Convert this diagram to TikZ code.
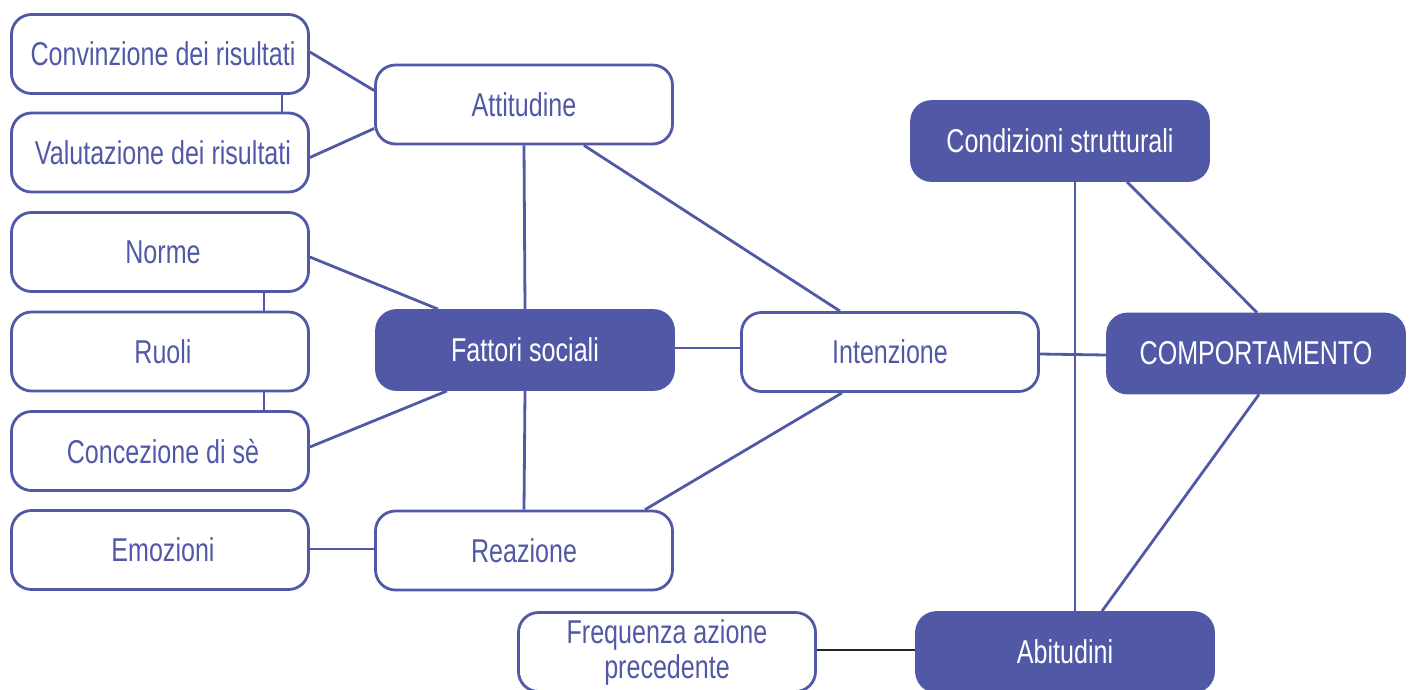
\documentclass[tikz,border=0pt]{standalone}
\usepackage{fontspec}
\setmainfont{Liberation Sans}[FakeStretch=0.76]
\usetikzlibrary{calc}
\definecolor{ink}{RGB}{81,89,167}
\begin{document}
\begin{tikzpicture}[x=1pt,y=-1pt,
  box/.style={draw=ink, line width=2.8pt, rounded corners=20pt,
    minimum width=297pt, minimum height=79pt, inner sep=0pt,
    text=ink, align=center, font=\fontsize{33pt}{35pt}\selectfont},
  hub/.style={box, fill=ink, text=white},
  link/.style={draw=ink, line width=2.8pt},
  plain/.style={draw=black!85, line width=2.8pt}]
\useasboundingbox (0,0) rectangle (1412,689);
\clip (0,0) rectangle (1412,689);

% left column
\node[box] (conv) at (160,54)    {\hspace{6pt}Convinzione dei risultati};
\node[box] (valu) at (160,152.5) {\hspace{6pt}Valutazione dei risultati};
\node[box] (norm) at (160,252)   {\hspace{6pt}Norme};
\node[box] (ruol) at (160,351.5) {\hspace{6pt}Ruoli};
\node[box] (conc) at (160,451)   {\hspace{6pt}Concezione di sè};
\node[box] (emoz) at (160,550)   {\hspace{6pt}Emozioni};

% middle column
\node[box] (att)  at (524,104.5) {Attitudine};
\node[hub] (fatt) at (525,350)   {Fattori sociali};
\node[box] (reaz) at (524,550.5) {Reazione};
\node[box] (int)  at (890,352)   {Intenzione};

% right part
\node[hub] (cond) at (1060,141)  {Condizioni strutturali};
\node[hub] (comp) at (1256,353.5){COMPORTAMENTO};
\node[hub] (abit) at (1065,652)  {Abitudini};
\node[box] (freq) at (667,652)   {Frequenza azione\\precedente};

% connectors
\draw[link] ($(conv.east)+(0,-2)$) -- ($(att.west)+(0,-14)$);
\draw[link] ($(valu.east)+(0,5)$) -- ($(att.west)+(0,24)$);
\draw[link] ($(conv.south)+(122,0)$) -- ($(valu.north)+(122,0)$);
\draw[link] ($(norm.south)+(104,0)$) -- ($(ruol.north)+(104,0)$);
\draw[link] ($(ruol.south)+(104,0)$) -- ($(conc.north)+(104,0)$);
\draw[link] ($(norm.east)+(0,5)$) -- ($(fatt.north)+(-87,0)$);
\draw[link] ($(conc.east)+(0,-4)$) -- ($(fatt.south)+(-78,0)$);
\draw[link] (att.south) -- (fatt.north);
\draw[link] ($(att.south)+(60,0)$) -- ($(int.north)+(-50,0)$);
\draw[link] ($(fatt.east)+(0,-2)$) -- ($(int.west)+(0,-4)$);
\draw[link] (fatt.south) -- (reaz.north);
\draw[link] ($(int.south)+(-48,0)$) -- ($(reaz.north)+(121,0)$);
\draw[link] ($(emoz.east)+(0,-1)$) -- ($(reaz.west)+(0,-1.5)$);
\draw[link] ($(int.east)+(0,2)$) -- ($(comp.west)+(0,1.5)$);
\draw[link] ($(cond.south)+(15,0)$) -- ($(abit.north)+(10,0)$);
\draw[link] ($(cond.south)+(67,0)$) -- ($(comp.north)+(1,0)$);
\draw[link] ($(comp.south)+(3,0)$) -- ($(abit.north)+(37,0)$);
\draw[plain] ($(freq.east)+(0,-2)$) -- ($(abit.west)+(0,-2)$);
\end{tikzpicture}
\end{document}
